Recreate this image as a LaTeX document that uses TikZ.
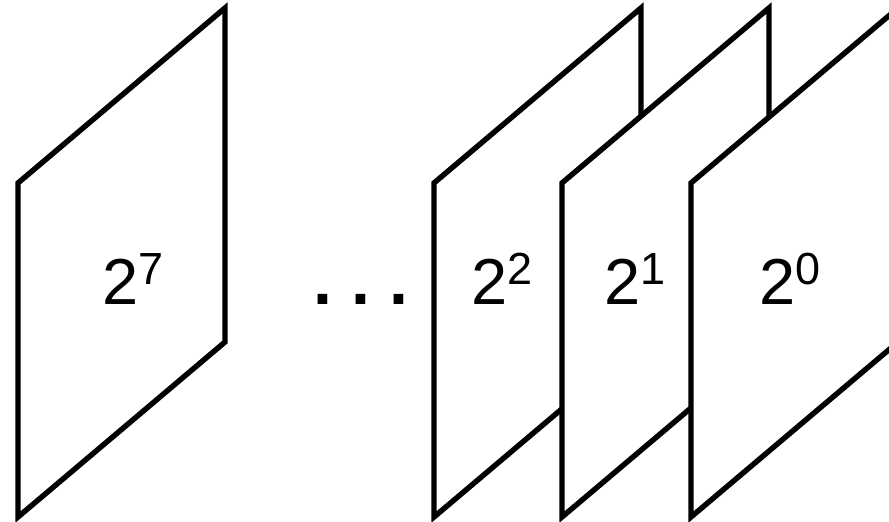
\documentclass[tikz,border=0pt]{standalone}
\usepackage{fontspec}
\setmainfont{Liberation Sans}
\usetikzlibrary{positioning}

% power of two with a raised exponent
\newcommand{\powtwo}[1]{2\raisebox{20pt}{\fontsize{45}{45}\selectfont #1}}

\begin{document}
\begin{tikzpicture}[
  x=1pt, y=-1pt,
  font=\fontsize{65}{65}\selectfont,
  panel/.style={draw=black, fill=white, line width=5.4pt},
  lbl/.style={anchor=base, inner sep=0pt}
]
\useasboundingbox (0,0) rectangle (889,522);
\clip (0,0) rectangle (889,522);
% planes, back to front
\foreach \px in {18,434,562,691}
  \filldraw[panel] (\px,517) -- ++(0,-334) -- ++(207,-175) -- ++(0,334) -- cycle;
\node[lbl] (p7) at (133,304) {\powtwo{7}};
\node[lbl, font=\fontsize{68}{68}\selectfont\bfseries] (dots) at (361,304) {.\ .\ .};
\node[lbl] (p2) at (502,304) {\powtwo{2}};
\node[lbl] (p1) at (635,304) {\powtwo{1}};
\node[lbl] (p0) at (790,304) {\powtwo{0}};
\end{tikzpicture}
\end{document}
